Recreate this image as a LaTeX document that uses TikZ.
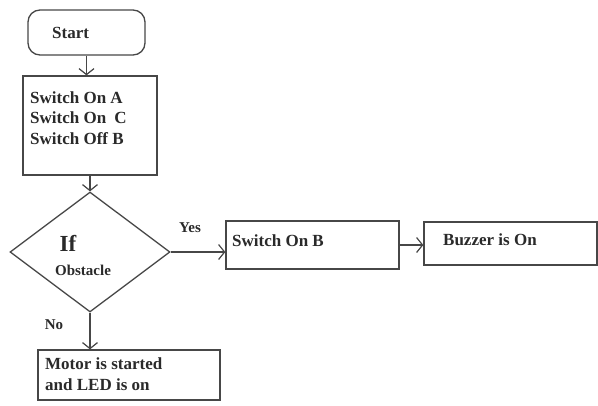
\documentclass[tikz,border=0pt]{standalone}
\usepackage{fontspec}
\setmainfont{Liberation Serif}
\usetikzlibrary{shapes.geometric,arrows.meta}
\definecolor{ink}{HTML}{2A2A2A}
\definecolor{edge}{HTML}{474747}
\tikzset{
  box/.style={draw=edge, line width=1.3pt, rectangle, inner sep=0pt},
  startbox/.style={box, rounded corners=12pt},
  decision/.style={draw=edge, line width=1.3pt, diamond, inner sep=0pt},
  txt/.style={text=ink, font=\fontsize{17}{21}\selectfont\bfseries, inner sep=0pt, align=left},
  flow/.style={draw=edge, line width=1.3pt, -{Straight Barb[length=6pt,width=15pt,line width=1.2pt]}}
}
\begin{document}
\begin{tikzpicture}[x=1pt,y=-1pt]
  \useasboundingbox (0,0) rectangle (598,405);

  % shapes of the flow
  \node[startbox, minimum width=117pt, minimum height=45pt] (start) at (86.5,32.5) {};
  \node[box, minimum width=134pt, minimum height=99pt] (init) at (90,125.5) {};
  \node[decision, minimum width=160pt, minimum height=120pt] (dia) at (90,252) {};
  \node[box, minimum width=173pt, minimum height=48pt] (sob) at (312.5,245) {};
  \node[box, minimum width=173pt, minimum height=43pt] (buzz) at (510.5,243.5) {};
  \node[box, minimum width=182pt, minimum height=50pt] (motor) at (129,375) {};

  % texts
  \node[txt, anchor=west] (tstart) at (52,33) {Start};
  \node[txt, anchor=north west] (tinit) at (30,91) {Switch On A\\Switch On\hspace{4pt} C\\Switch Off B};
  \node[txt, font=\fontsize{23}{25}\selectfont\bfseries] (tif) at (68,243) {If};
  \node[txt, font=\fontsize{15}{17}\selectfont\bfseries] (tobs) at (83,270) {Obstacle};
  \node[txt, anchor=west] (tsob) at (232,241) {Switch On B};
  \node[txt, anchor=west] (tbz) at (443,240) {Buzzer is On};
  \node[txt, anchor=north west] (tmotor) at (45,357) {Motor is started\\and LED is on};
  \node[txt, font=\fontsize{15}{17}\selectfont\bfseries] (yes) at (190,228) {Yes};
  \node[txt, font=\fontsize{15}{17}\selectfont\bfseries] (no) at (54,325) {No};

  % connectors
  \draw[flow] (start.south) -- (start.south |- init.north);
  \draw[flow] (init.south) -- (dia.north);
  \draw[flow] (dia.east) -- (dia.east -| sob.west);
  \draw[flow] (sob.east) -- (sob.east -| buzz.west);
  \draw[flow] (dia.south) -- (dia.south |- motor.north);
\end{tikzpicture}
\end{document}
